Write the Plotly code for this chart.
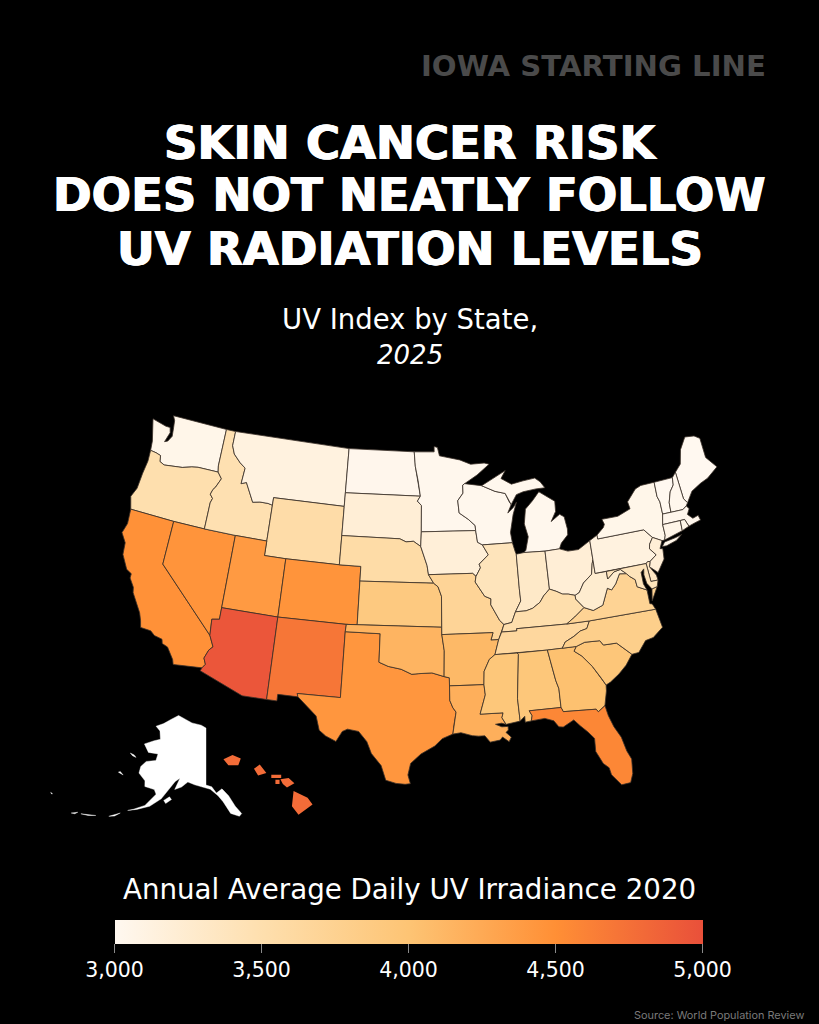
import math
import plotly.graph_objects as go
from plotly.colors import sample_colorscale

# values
states = ["WA","OR","CA","NV","ID","MT","WY","UT","CO","AZ","NM","TX","ND","SD","NE","KS","OK",
          "MN","IA","MO","AR","LA","WI","IL","MI","IN","OH","KY","TN","MS","AL","GA","FL","SC",
          "NC","VA","WV","PA","NY","ME","VT","NH","MA","CT","RI","NJ","DE","MD","HI"]
uv = [3050,3500,4480,4450,3480,3130,3550,4400,4450,4950,4700,4430,3030,3200,3560,3900,4150,
      3020,3180,3700,4100,4200,3020,3400,3020,3300,3200,3520,3640,3950,3950,4030,4560,3960,
      3800,3720,3250,3130,3050,3000,3000,3020,3030,3060,3050,3200,3350,3400,4780]
no_data_states = ["AK"]
tick_vals = [3000,3500,4000,4500,5000]
tick_text = ["3,000","3,500","4,000","4,500","5,000"]

colorscale = [[0,"#fff8f0"],[0.25,"#fedfae"],[0.5,"#fdc474"],[0.75,"#ff8f35"],[1,"#e9503a"]]

# state outlines, lon/lat (topojson is not reachable, so the geometry lives here)
shapes = {
"WA": [[(-122.75,49),(-117.03,49),(-117.03,46.42),(-116.92,46),(-118.98,46),(-119.6,45.92),(-120.5,45.72),(-121.2,45.65),(-122.3,45.55),(-122.8,45.7),(-122.9,46.1),(-123.4,46.2),(-124,46.25),(-124.1,46.9),(-124.7,48.38),(-123.2,48.15),(-122.75,48.15),(-122.6,47.8),(-122.9,47.1),(-122.6,47.2),(-122.3,47.6),(-122.4,48.2),(-122.5,48.7)]],
"OR": [[(-124,46.25),(-123.4,46.2),(-122.9,46.1),(-122.8,45.7),(-122.3,45.55),(-121.2,45.65),(-120.5,45.72),(-119.6,45.92),(-118.98,46),(-116.92,46),(-116.46,45.6),(-116.85,44.95),(-117.05,44.75),(-117.2,44.4),(-116.9,44.15),(-117.03,43.83),(-117.03,42),(-120,42),(-124.2,42),(-124.55,42.84),(-124.2,43.5),(-124.1,44.6),(-123.95,45.5)]],
"CA": [[(-124.2,42),(-120,42),(-120,39),(-114.6,35),(-114.15,34.27),(-114.45,34),(-114.72,33.4),(-114.5,33),(-114.72,32.72),(-117.12,32.53),(-117.25,32.85),(-117.9,33.6),(-118.4,33.75),(-118.5,34.03),(-119.2,34.15),(-119.6,34.4),(-120.5,34.45),(-120.65,34.9),(-120.9,35.4),(-121.9,36.6),(-122,36.95),(-122.5,37.5),(-122.5,37.8),(-123,38),(-123.7,38.9),(-123.8,39.7),(-124.35,40.3),(-124.1,41)]],
"NV": [[(-120,42),(-117.03,42),(-114.05,42),(-114.05,37),(-114.05,36.2),(-114.7,36.1),(-114.6,35),(-120,39)]],
"ID": [[(-117.03,49),(-116.05,49),(-116.05,48),(-115.7,47.45),(-114.95,46.95),(-114.35,46.65),(-114.45,45.55),(-113.95,45.7),(-113.45,45.05),(-113,44.45),(-112.3,44.55),(-111.5,44.55),(-111.05,44.48),(-111.05,42),(-114.05,42),(-117.03,42),(-117.03,43.83),(-116.9,44.15),(-117.2,44.4),(-117.05,44.75),(-116.85,44.95),(-116.46,45.6),(-116.92,46),(-117.03,46.42)]],
"MT": [[(-116.05,49),(-104.05,49),(-104.05,45.94),(-104.05,45),(-111.05,45),(-111.05,44.48),(-111.5,44.55),(-112.3,44.55),(-113,44.45),(-113.45,45.05),(-113.95,45.7),(-114.45,45.55),(-114.35,46.65),(-114.95,46.95),(-115.7,47.45),(-116.05,48)]],
"WY": [[(-111.05,45),(-104.05,45),(-104.05,43),(-104.05,41),(-109.05,41),(-111.05,41),(-111.05,42),(-111.05,44.48)]],
"UT": [[(-114.05,42),(-111.05,42),(-111.05,41),(-109.05,41),(-109.05,37),(-114.05,37)]],
"CO": [[(-109.05,41),(-104.05,41),(-102.05,41),(-102.05,40),(-102.05,37),(-103,37),(-109.05,37)]],
"AZ": [[(-114.05,37),(-109.05,37),(-109.05,31.33),(-111.07,31.33),(-114.82,32.5),(-114.72,32.72),(-114.5,33),(-114.72,33.4),(-114.45,34),(-114.15,34.27),(-114.6,35),(-114.7,36.1),(-114.05,36.2)]],
"NM": [[(-109.05,37),(-103,37),(-103.05,36.5),(-103.05,32),(-106.62,32),(-106.53,31.78),(-108.2,31.78),(-108.2,31.33),(-109.05,31.33)]],
"TX": [[(-103.05,36.5),(-100,36.5),(-100,34.56),(-99.2,34.3),(-98.1,34.13),(-97.2,33.8),(-96.6,33.85),(-95.5,33.9),(-94.48,33.64),(-94.04,33.55),(-94.04,33),(-94.04,32),(-93.8,31.5),(-93.55,31.2),(-93.75,30.3),(-93.85,29.7),(-94.7,29.4),(-95.3,28.9),(-96.4,28.35),(-97.2,27.7),(-97.4,26.9),(-97.2,26.3),(-97.6,26.25),(-98.3,26.3),(-99.1,26.5),(-99.5,27.5),(-100.3,28.3),(-100.7,29.1),(-101.4,29.77),(-102.3,29.88),(-102.7,29.7),(-103.15,28.98),(-104,29.3),(-104.55,29.65),(-104.9,30.6),(-106.53,31.78),(-106.62,32),(-103.05,32)]],
"ND": [[(-104.05,49),(-97.23,49),(-97.1,48),(-96.8,47),(-96.56,45.94),(-104.05,45.94)]],
"SD": [[(-104.05,45.94),(-96.56,45.94),(-96.85,45.6),(-96.45,45.3),(-96.45,43.5),(-96.5,42.5),(-97.2,42.85),(-97.9,42.8),(-98.5,43),(-104.05,43),(-104.05,45)]],
"NE": [[(-104.05,43),(-98.5,43),(-97.9,42.8),(-97.2,42.85),(-96.5,42.5),(-96.1,41.7),(-95.9,41.2),(-95.77,40.58),(-95.3,40),(-102.05,40),(-102.05,41),(-104.05,41)]],
"KS": [[(-102.05,40),(-95.3,40),(-94.9,39.75),(-94.6,39.1),(-94.62,37),(-103,37),(-102.05,37)]],
"OK": [[(-103,37),(-94.62,37),(-94.62,36.5),(-94.43,35.4),(-94.48,33.64),(-95.5,33.9),(-96.6,33.85),(-97.2,33.8),(-98.1,34.13),(-99.2,34.3),(-100,34.56),(-100,36.5),(-103.05,36.5)]],
"MN": [[(-97.23,49),(-95.15,49),(-95.15,49.38),(-94.8,49.3),(-94.6,48.72),(-93.5,48.55),(-92.5,48.4),(-91.4,48.07),(-90,48.1),(-89.5,48),(-90.8,47.3),(-92.1,46.75),(-92.3,46.65),(-92.3,46.1),(-92.85,45.6),(-92.75,44.75),(-91.9,44.3),(-91.25,43.85),(-91.22,43.5),(-96.45,43.5),(-96.45,45.3),(-96.85,45.6),(-96.56,45.94),(-96.8,47),(-97.1,48)]],
"IA": [[(-96.45,43.5),(-91.22,43.5),(-91.1,42.7),(-90.65,42.5),(-90.15,41.8),(-91.05,41.2),(-90.95,40.95),(-91.4,40.38),(-91.7,40.6),(-95.77,40.58),(-95.9,41.2),(-96.1,41.7),(-96.5,42.5)]],
"MO": [[(-95.77,40.58),(-91.7,40.6),(-91.4,40.38),(-91.5,40),(-90.7,39),(-90.15,38.8),(-90.2,38.4),(-89.5,37.3),(-89.15,37),(-89.4,36.5),(-89.7,36),(-90.37,36),(-90.15,36.5),(-94.62,36.5),(-94.62,37),(-94.6,39.1),(-94.9,39.75),(-95.3,40)]],
"AR": [[(-94.62,36.5),(-90.15,36.5),(-90.37,36),(-89.7,36),(-90.1,35),(-90.6,34.7),(-91.1,33.9),(-91.17,33),(-94.04,33),(-94.04,33.55),(-94.48,33.64),(-94.43,35.4)]],
"LA": [[(-94.04,33),(-91.17,33),(-91.1,32.3),(-91.6,31),(-89.73,31),(-89.85,30.67),(-89.55,30.2),(-89.9,30.3),(-90.4,30.25),(-89.9,30.05),(-89.4,30.05),(-89.4,29.8),(-89.6,29.65),(-89.2,29.3),(-89.4,29),(-89.9,29.35),(-90.1,29.15),(-90.9,29.05),(-91.3,29.5),(-91.8,29.5),(-92.3,29.55),(-93.2,29.78),(-93.85,29.7),(-93.75,30.3),(-93.55,31.2),(-93.8,31.5),(-94.04,32)]],
"MS": [[(-90.1,35),(-88.2,35),(-88.1,34.9),(-88.47,31.9),(-88.4,30.35),(-89.55,30.2),(-89.85,30.67),(-89.73,31),(-91.6,31),(-91.1,32.3),(-91.17,33),(-91.1,33.9),(-90.6,34.7)]],
"AL": [[(-88.2,35),(-85.6,35),(-85.18,32.87),(-85,32.3),(-85,31),(-87.6,31),(-87.4,30.65),(-87.5,30.3),(-88,30.25),(-88,30.65),(-88.4,30.35),(-88.47,31.9),(-88.1,34.9)]],
"GA": [[(-85.6,35),(-84.32,35),(-83.1,35),(-83.35,34.7),(-82.75,34.3),(-82,33.5),(-81.4,32.6),(-81.1,32.1),(-81.15,31.7),(-81.45,30.72),(-82.05,30.37),(-82.2,30.57),(-84.86,30.7),(-85,31),(-85,32.3),(-85.18,32.87)]],
"FL": [[(-87.6,31),(-85,31),(-84.86,30.7),(-82.2,30.57),(-82.05,30.37),(-81.45,30.72),(-81.3,30),(-81,29.2),(-80.55,28.4),(-80.3,27.4),(-80.03,26.8),(-80.13,25.8),(-80.4,25.2),(-81.1,25.15),(-81.75,25.95),(-81.85,26.45),(-82.25,26.8),(-82.7,27.7),(-82.65,28.6),(-83.1,29.1),(-83.65,29.6),(-84.1,30.05),(-85,29.65),(-85.35,29.7),(-85.7,30.15),(-86.4,30.38),(-87.5,30.3),(-87.4,30.65)]],
"SC": [[(-83.1,35),(-82.35,35.2),(-81.05,35.15),(-80.8,34.82),(-79.67,34.8),(-78.55,33.86),(-79.2,33.2),(-79.9,32.7),(-80.7,32.25),(-81.1,32.1),(-81.4,32.6),(-82,33.5),(-82.75,34.3),(-83.35,34.7)]],
"NC": [[(-84.32,35),(-83.1,35),(-82.35,35.2),(-81.05,35.15),(-80.8,34.82),(-79.67,34.8),(-78.55,33.86),(-77.95,33.9),(-77.2,34.6),(-76.5,34.7),(-75.55,35.25),(-75.8,36.55),(-81.68,36.59),(-82,36.1),(-82.6,36),(-83.2,35.7),(-84,35.4)]],
"TN": [[(-90.1,35),(-88.2,35),(-85.6,35),(-84.32,35),(-84,35.4),(-83.2,35.7),(-82.6,36),(-82,36.1),(-81.68,36.59),(-83.68,36.6),(-88.07,36.65),(-88.07,36.5),(-89.4,36.5),(-89.7,36)]],
"KY": [[(-89.4,36.5),(-88.07,36.5),(-88.07,36.65),(-83.68,36.6),(-82.9,37),(-81.97,37.54),(-82.6,38.2),(-82.6,38.45),(-83.2,38.6),(-83.7,38.65),(-84.25,38.9),(-84.82,39.1),(-85.4,38.7),(-85.8,38.28),(-86.5,37.93),(-87.1,37.8),(-88.05,37.8),(-88.45,37.1),(-89.15,37)]],
"VA": [[(-83.68,36.6),(-81.68,36.59),(-75.8,36.55),(-76,36.95),(-76.2,37),(-76.2,37.6),(-76.2,37.95),(-77,38.3),(-77.05,38.8),(-77.5,39.1),(-77.72,39.32),(-78.35,39.4),(-78.85,38.77),(-79.3,38.42),(-79.65,38.58),(-80.3,37.5),(-81.2,37.25),(-81.97,37.54),(-82.9,37)],
       [(-75.95,37.15),(-75.75,37.95),(-75.25,38.03),(-75.7,37.4)]],
"WV": [[(-81.97,37.54),(-81.2,37.25),(-80.3,37.5),(-79.65,38.58),(-79.3,38.42),(-78.85,38.77),(-78.35,39.4),(-77.72,39.32),(-78.2,39.68),(-78.8,39.6),(-79.48,39.2),(-79.48,39.72),(-80.52,39.72),(-80.52,40.64),(-80.65,40.4),(-80.85,39.7),(-81.7,39.2),(-82.2,38.6),(-82.6,38.45),(-82.6,38.2)]],
"MD": [[(-79.48,39.72),(-75.79,39.72),(-75.7,38.46),(-75.05,38.45),(-75.25,38.03),(-75.75,37.95),(-76.1,38.4),(-76.2,39),(-76.1,39.4),(-76.4,39.2),(-76.4,38.4),(-76.2,37.95),(-77,38.3),(-77.05,38.8),(-77.5,39.1),(-77.72,39.32),(-78.2,39.68),(-78.8,39.6),(-79.48,39.2)]],
"DE": [[(-75.79,39.72),(-75.6,39.83),(-75.4,39.8),(-75.55,39.45),(-75.1,38.8),(-75.05,38.45),(-75.7,38.46)]],
"PA": [[(-80.52,41.98),(-79.76,42.27),(-79.76,42),(-75.35,42),(-74.7,41.36),(-75.1,40.95),(-75.2,40.65),(-74.72,40.15),(-75.4,39.8),(-75.6,39.83),(-75.79,39.72),(-79.48,39.72),(-80.52,39.72),(-80.52,40.64)]],
"NJ": [[(-74.7,41.36),(-73.9,41),(-74.25,40.5),(-74,40.45),(-74.1,39.75),(-74.9,38.95),(-75.55,39.45),(-75.4,39.8),(-74.72,40.15),(-75.2,40.65),(-75.1,40.95)]],
"NY": [[(-79.76,42.27),(-79.05,42.7),(-78.9,42.9),(-79.05,43.27),(-77.5,43.27),(-76.5,43.5),(-76.2,43.6),(-76.3,44.1),(-75.3,44.85),(-74.7,45),(-73.35,45),(-73.4,44),(-73.25,43.6),(-73.27,42.75),(-73.5,42.05),(-73.5,41.3),(-73.65,41),(-73.9,41),(-74.7,41.36),(-75.35,42),(-79.76,42)],
       [(-74,40.6),(-73.7,40.87),(-72.6,40.98),(-72,41.08),(-72.6,40.78),(-73.6,40.58)]],
"CT": [[(-73.5,42.05),(-71.8,42.02),(-71.85,41.32),(-73.65,41),(-73.5,41.3)]],
"RI": [[(-71.8,42.02),(-71.38,42.02),(-71.15,41.5),(-71.85,41.32)]],
"MA": [[(-73.5,42.05),(-73.27,42.75),(-72.46,42.73),(-71.3,42.7),(-70.9,42.88),(-70.7,42.65),(-71,42.3),(-70.6,41.95),(-70.05,42.05),(-69.95,41.7),(-70.6,41.6),(-71.15,41.5),(-71.38,42.02),(-71.8,42.02)]],
"VT": [[(-73.35,45),(-71.5,45),(-71.6,44.5),(-72.05,44.1),(-72.4,43.4),(-72.46,42.73),(-73.27,42.75),(-73.25,43.6),(-73.4,44)]],
"NH": [[(-71.5,45),(-71.08,45.3),(-70.98,43.4),(-70.7,43.07),(-70.9,42.88),(-71.3,42.7),(-72.46,42.73),(-72.4,43.4),(-72.05,44.1),(-71.6,44.5)]],
"ME": [[(-71.08,45.3),(-70.4,45.75),(-70,46.7),(-69.23,47.46),(-68.3,47.35),(-67.8,47.07),(-67.8,45.7),(-67,44.85),(-68.2,44.3),(-69,44.1),(-70,43.75),(-70.7,43.07),(-70.98,43.4)]],
"OH": [[(-84.82,39.1),(-84.82,41.7),(-83.45,41.73),(-82.7,41.5),(-81.7,41.5),(-80.52,41.98),(-80.52,40.64),(-80.65,40.4),(-80.85,39.7),(-81.7,39.2),(-82.2,38.6),(-82.6,38.45),(-83.2,38.6),(-83.7,38.65),(-84.25,38.9)]],
"IN": [[(-87.53,41.7),(-86.8,41.76),(-84.82,41.7),(-84.82,39.1),(-85.4,38.7),(-85.8,38.28),(-86.5,37.93),(-87.1,37.8),(-88.05,37.8),(-87.5,38.5),(-87.53,39.35)]],
"IL": [[(-90.65,42.5),(-87.8,42.5),(-87.6,41.85),(-87.53,41.7),(-87.53,39.35),(-87.5,38.5),(-88.05,37.8),(-88.45,37.1),(-89.15,37),(-89.5,37.3),(-90.2,38.4),(-90.15,38.8),(-90.7,39),(-91.5,40),(-91.4,40.38),(-90.95,40.95),(-91.05,41.2),(-90.15,41.8)]],
"WI": [[(-92.1,46.75),(-90.4,46.55),(-89.1,46.1),(-88.1,45.9),(-87.8,45.35),(-87.6,45.1),(-88,44.55),(-87.4,44.9),(-87.05,45.25),(-87.5,44.4),(-87.9,43.2),(-87.8,42.5),(-90.65,42.5),(-91.1,42.7),(-91.22,43.5),(-91.25,43.85),(-91.9,44.3),(-92.75,44.75),(-92.85,45.6),(-92.3,46.1),(-92.3,46.65)]],
"MI": [[(-86.8,41.76),(-84.82,41.7),(-83.45,41.73),(-83.2,42.1),(-82.5,42.6),(-82.45,43),(-82.6,43.85),(-83,44.07),(-83.9,43.65),(-83.35,44.3),(-83.3,45),(-84.75,45.78),(-85.5,45.2),(-86.25,44.7),(-86.5,43.7),(-86.25,42.8),(-86.6,41.9)],
       [(-90.4,46.55),(-89.1,46.1),(-88.1,45.9),(-87.8,45.35),(-87.6,45.1),(-87,45.75),(-86.3,45.9),(-85,46),(-84.1,46),(-84.5,46.45),(-85,46.75),(-86.2,46.65),(-87.4,46.5),(-88.4,46.95),(-87.9,47.47),(-89.6,46.85)]],
}

hawaii_parts = [
    [(-160.2,22.15),(-159.65,22.4),(-159.15,22.2),(-159.3,21.8),(-159.9,21.8)],
    [(-158.35,21.6),(-158,21.85),(-157.6,21.35),(-158.1,21.2)],
    [(-157.3,21.25),(-156.7,21.25),(-156.7,21.05),(-157.3,21.05)],
    [(-157.05,20.95),(-156.8,20.95),(-156.8,20.7),(-157.05,20.7)],
    [(-156.75,20.98),(-156.25,21.05),(-155.9,20.75),(-156.35,20.5),(-156.6,20.7)],
    [(-155.95,20.3),(-155.1,19.9),(-154.8,19.5),(-155.65,18.9),(-156.05,19.4)],
]
alaska_parts = [
    [(-141,69.65),(-143.5,70.1),(-148.5,70.4),(-152,70.85),(-156.5,71.35),(-160,70.5),(-163,69.6),(-166.2,68.9),(-163.5,68.3),(-162,67),(-164.5,66.55),(-168,65.65),(-165,64.5),(-161,64.6),(-161,63.5),(-164.5,63),(-165.8,62),(-165.5,60.9),(-162.5,59.9),(-161.9,59),(-158.5,58.8),(-157.5,58.1),(-160,56),(-163,55),(-164.5,54.6),(-162,55.1),(-158.5,56),(-155.5,57.5),(-153.8,59),(-152,60.6),(-150.5,61.2),(-151.7,59.3),(-149.5,59.8),(-147.5,60.7),(-145,60.3),(-141,59.9),(-139.5,59.6),(-137,58.5),(-135.5,57.5),(-133.5,55.5),(-131,54.9),(-130.2,55.3),(-131.8,56.6),(-133.5,58.4),(-135.5,59.6),(-137.5,58.95),(-139,60),(-141,60.3)],
    [(-154.6,57.3),(-153,58),(-152.2,57.6),(-153.8,56.85)],
    [(-169,52.9),(-167.5,53.4),(-166.3,53.9),(-167.5,53.2)],
    [(-176.5,51.85),(-174,52.2),(-172.5,52.4),(-174.5,52.0)],
    [(-172,60.3),(-170.5,59.9),(-172.5,60.1)],
    [(-171.8,63.6),(-170,63.5),(-168.9,63.2),(-170.5,63.3)],
    [(-179,51.4),(-177.5,51.9),(-178,51.5)],
    [(173.2,52.9),(172.5,52.95),(173,52.8)],
]

# Albers conic for the lower 48
PHI1, PHI2, LAT0, LON0 = 29.5, 45.5, 37.5, -96
CX, CY, KX, KY = 426, 620, 825, 835
N = (math.sin(math.radians(PHI1)) + math.sin(math.radians(PHI2))) / 2
C = math.cos(math.radians(PHI1)) ** 2 + 2 * N * math.sin(math.radians(PHI1))
RHO0 = math.sqrt(C - 2 * N * math.sin(math.radians(LAT0))) / N


def albers(lon, lat):
    rho = math.sqrt(C - 2 * N * math.sin(math.radians(lat))) / N
    th = N * math.radians(lon - LON0)
    return CX + KX * rho * math.sin(th), CY - KY * (RHO0 - rho * math.cos(th))


def alaska(lon, lat):
    if lon > 0:
        lon -= 360
    rho = 90 - lat
    th = math.radians(0.72 * (lon + 141))
    return 206 + 7.6 * rho * math.sin(th), 728 + 6.1 * (rho * math.cos(th) - 20.35)


def hawaii(lon, lat):
    return 235 + 16.5 * (lon + 159.5), 761 + 17.1 * (22.05 - lat)


def trace_xy(parts, proj):
    xs, ys = [], []
    for part in parts:
        for lon, lat in part + [part[0]]:
            x, y = proj(lon, lat)
            xs.append(x)
            ys.append(y)
        xs.append(None)
        ys.append(None)
    return xs, ys


fig = go.Figure()

cx, cy = [], []
for st, val in zip(states, uv):
    color = sample_colorscale(colorscale, (val - 3000) / 2000)[0]
    if st == "HI":
        xs, ys = trace_xy(hawaii_parts, hawaii)
        line_w = 0
    else:
        xs, ys = trace_xy(shapes[st], albers)
        line_w = 0.8
    fig.add_trace(go.Scatter(x=xs, y=ys, mode="lines", fill="toself", fillcolor=color,
                             line=dict(color="#3a3028", width=line_w), hoverinfo="text",
                             text=f"{st}: {val:,}", showlegend=False))
    real = [(a, b) for a, b in zip(xs, ys) if a is not None]
    cx.append(sum(p[0] for p in real) / len(real))
    cy.append(sum(p[1] for p in real) / len(real))

for st in no_data_states:
    xs, ys = trace_xy(alaska_parts, alaska)
    fig.add_trace(go.Scatter(x=xs, y=ys, mode="lines", fill="toself", fillcolor="#ffffff",
                             line=dict(color="#ffffff", width=0.4), hoverinfo="skip",
                             showlegend=False))

# invisible points that carry the values and the colour bar
fig.add_trace(go.Scatter(
    x=cx, y=cy, mode="markers", hoverinfo="skip", showlegend=False,
    marker=dict(size=1, opacity=0, color=uv, cmin=3000, cmax=5000, colorscale=colorscale,
                colorbar=dict(orientation="h", x=0.4988, xanchor="center", y=1 - 920 / 1024, yanchor="top",
                              len=588, lenmode="pixels", thickness=24, thicknessmode="pixels",
                              xpad=0, ypad=0, outlinewidth=0, tickmode="array",
                              tickvals=tick_vals, ticktext=tick_text, ticks="outside", ticklen=9,
                              tickcolor="#8a8a8a", tickwidth=1,
                              tickfont=dict(family="DejaVu Sans", size=20.5, color="#ffffff"))),
))

header_font = "DejaVu Sans"
thick = "0.7px 0 0 #ffffff,-0.7px 0 0 #ffffff"
notes = [
    ("<b>IOWA STARTING LINE</b>", 593, 66, 29.2, "#4a4a4a", "none"),
    ("<b>SKIN CANCER RISK</b>", 410, 143, 46.5, "#ffffff", thick),
    ("<b>DOES NOT NEATLY FOLLOW</b>", 409, 195, 46.5, "#ffffff", thick),
    ("<b>UV RADIATION LEVELS</b>", 410, 249, 46.5, "#ffffff", thick),
    ("UV Index by State,", 410, 319, 27.5, "#ffffff", "none"),
    ("<i>2025</i>", 410, 355, 26, "#ffffff", "none"),
    ("Annual Average Daily UV Irradiance 2020", 409, 889, 27.7, "#ffffff", "none"),
]
for txt, x, y, size, col, shadow in notes:
    fig.add_annotation(text=txt, x=x / 819, y=1 - y / 1024, xref="paper", yref="paper",
                       showarrow=False, xanchor="center", yanchor="middle",
                       font=dict(family=header_font, size=size, color=col, shadow=shadow))
fig.add_annotation(text="Source: World Population Review", x=806 / 819, y=1 - 1015 / 1024,
                   xref="paper", yref="paper", showarrow=False, xanchor="right", yanchor="middle",
                   font=dict(family="Inter", size=10.9, color="#7a7a7a"))

fig.update_layout(
    width=819, height=1024, margin=dict(l=0, r=0, t=0, b=0),
    paper_bgcolor="#000000", plot_bgcolor="#000000", showlegend=False,
    xaxis=dict(range=[0, 819], visible=False),
    yaxis=dict(range=[1024, 0], visible=False),
)

fig.write_html("out.html", config={"displayModeBar": False},
               post_script="document.body.style.margin='0';document.body.style.background='#000';document.body.style.overflow='hidden';")
